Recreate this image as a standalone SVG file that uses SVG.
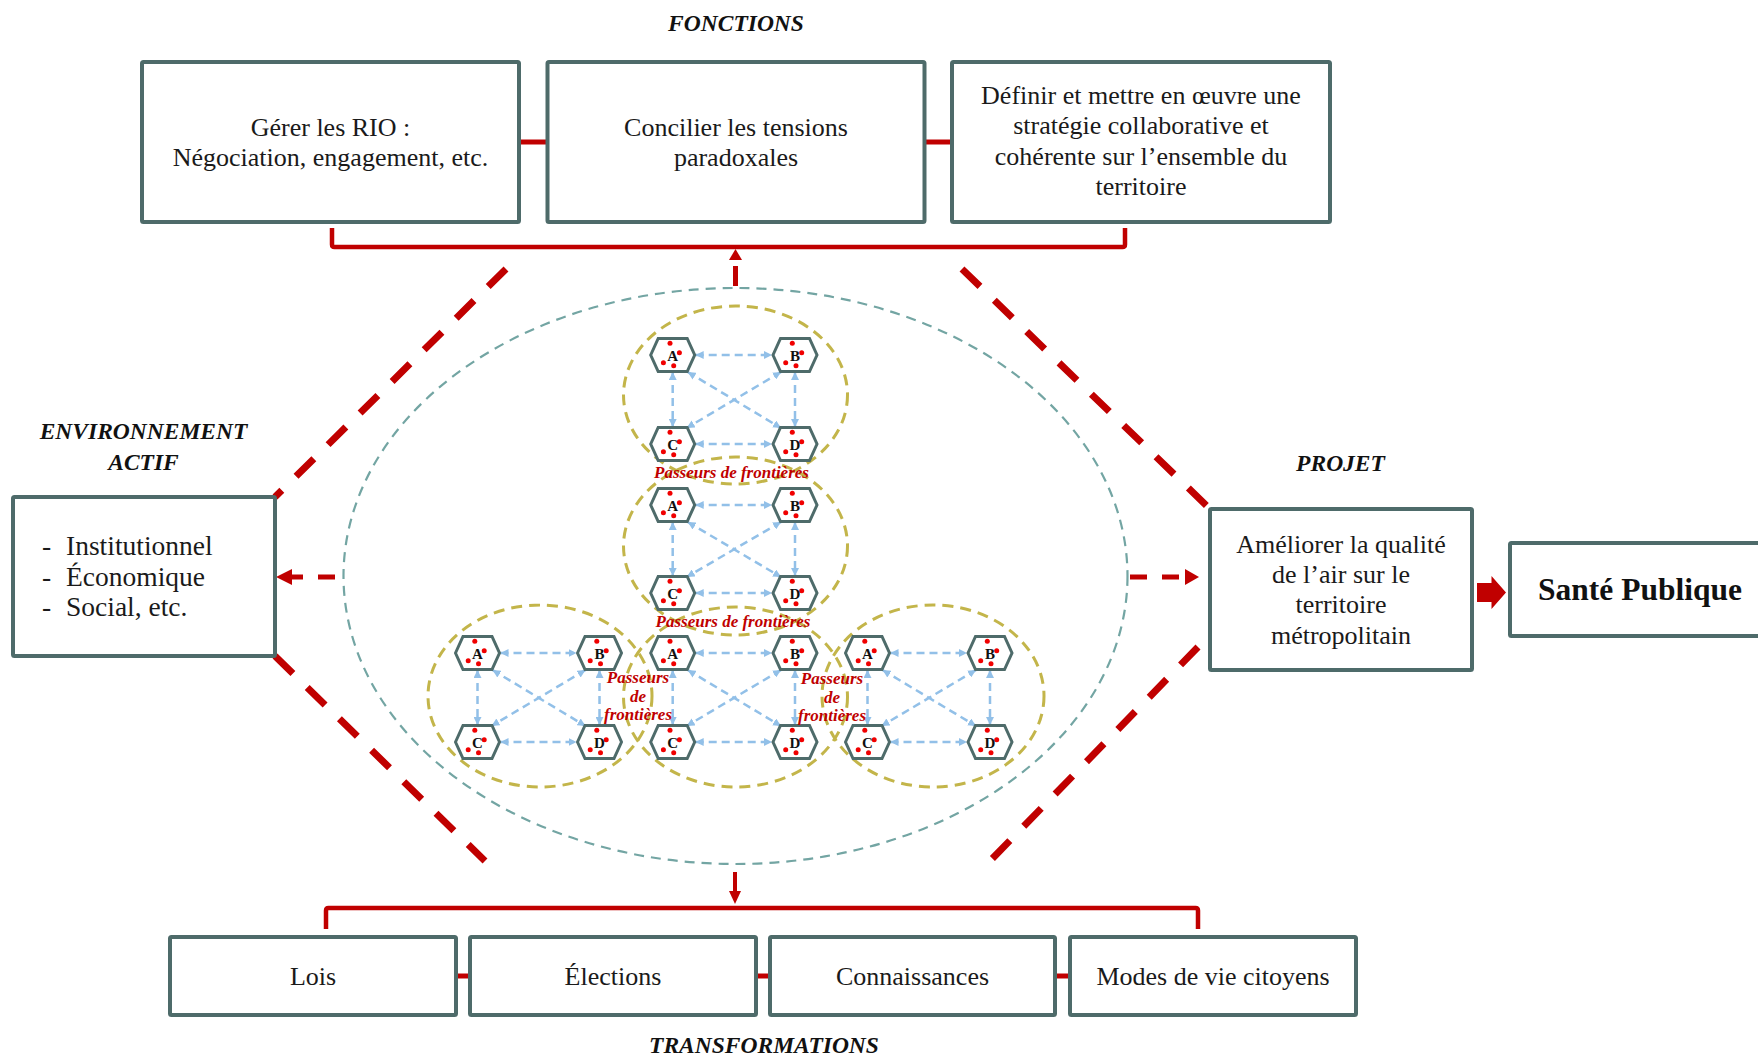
<svg xmlns="http://www.w3.org/2000/svg" xmlns:xlink="http://www.w3.org/1999/xlink" width="1758" height="1057" viewBox="0 0 1758 1057">
<style>
.box{fill:#fff;stroke:#4e6b6a;stroke-width:4}
.t{font-family:'Liberation Serif',serif;font-size:26px;fill:#1a1a1a;text-anchor:middle}
.tl{font-family:'Liberation Serif',serif;font-size:27.5px;fill:#1a1a1a}
.h{font-family:'Liberation Serif',serif;font-weight:bold;font-style:italic;font-size:23.5px;fill:#111;text-anchor:middle}
.pf{font-family:'Liberation Serif',serif;font-weight:bold;font-style:italic;font-size:17px;fill:#c00000;text-anchor:middle}
.hl{font-family:'Liberation Serif',serif;font-weight:bold;font-size:15px;fill:#111;text-anchor:middle}
.rl{stroke:#c00000;fill:none}
.big{stroke:#c00000;stroke-width:7;stroke-dasharray:25 20;fill:none}
.teal{fill:none;stroke:#73a5a3;stroke-width:2.2;stroke-dasharray:10 7}
.ol{fill:none;stroke:#c3b54a;stroke-width:3;stroke-dasharray:11 7}
.bl{fill:none;stroke:#92c0e8;stroke-width:2.5;stroke-dasharray:8 5;marker-start:url(#ba);marker-end:url(#ba)}
.hxp{fill:#fff;stroke:#4e6b6a;stroke-width:3}
.dot{fill:#f00000}
</style>
<defs>
<marker id="ba" viewBox="0 0 10 10" refX="10" refY="5" markerWidth="8" markerHeight="8" markerUnits="userSpaceOnUse" orient="auto-start-reverse"><path d="M0,0 L10,5 L0,10 z" fill="#92c0e8"/></marker>
<g id="hx">
<polygon class="hxp" points="-22,0 -14.5,-16.5 14.5,-16.5 22,0 14.5,16.5 -14.5,16.5"/>
<circle class="dot" cx="-2.7" cy="-11.7" r="2.5"/>
<circle class="dot" cx="6.7" cy="-2.3" r="2.5"/>
<circle class="dot" cx="-9.3" cy="7.7" r="2.5"/>
<circle class="dot" cx="1" cy="10.7" r="2.5"/>
</g>
</defs>
<rect width="1758" height="1057" fill="#fff"/>

<!-- section titles -->
<text class="h" x="736" y="31">FONCTIONS</text>
<text class="h" x="143.5" y="439">ENVIRONNEMENT</text>
<text class="h" x="143.5" y="470">ACTIF</text>
<text class="h" x="1340.5" y="471">PROJET</text>
<text class="h" x="764" y="1053">TRANSFORMATIONS</text>

<!-- connectors -->
<g id="connectors">
<line class="big" x1="506" y1="269" x2="275" y2="497"/>
<line class="big" x1="275" y1="656" x2="485" y2="861"/>
<line class="big" x1="962" y1="269" x2="1209" y2="508"/>
<line class="big" x1="1198" y1="647" x2="991" y2="860"/>
<line class="rl" stroke-width="5" x1="519" y1="142" x2="548" y2="142"/>
<line class="rl" stroke-width="5" x1="924" y1="142" x2="952" y2="142"/>
<path class="rl" stroke-width="4.5" d="M332,228 V244.5 Q332,247 334.5,247 H1122.5 Q1125,247 1125,244.5 V228"/>
<line class="rl" stroke-width="5" x1="735.5" y1="286" x2="735.5" y2="266"/>
<polygon fill="#c00000" points="735.5,249 729,260 742,260"/>
<line class="rl" stroke-width="5" stroke-dasharray="17 15" x1="335" y1="577" x2="292" y2="577"/>
<polygon fill="#c00000" points="276,577 292,569 292,585"/>
<line class="rl" stroke-width="5" stroke-dasharray="17 15" x1="1130" y1="577" x2="1186" y2="577"/>
<polygon fill="#c00000" points="1199,577 1185,569 1185,585"/>
<polygon fill="#c00000" points="1477,583 1491.5,583 1491.5,576 1506,592.5 1491.5,609 1491.5,602 1477,602"/>
<line class="rl" stroke-width="4" x1="735" y1="872" x2="735" y2="892"/>
<polygon fill="#c00000" points="729,891 741,891 735,904"/>
<path class="rl" stroke-width="4.5" d="M326,929 V910.5 Q326,908 328.5,908 H1195.5 Q1198,908 1198,910.5 V929"/>
<line class="rl" stroke-width="5" x1="456" y1="976" x2="470" y2="976"/>
<line class="rl" stroke-width="5" x1="756" y1="976" x2="771" y2="976"/>
<line class="rl" stroke-width="5" x1="1055" y1="976" x2="1071" y2="976"/>
</g>

<!-- top function boxes -->
<g id="f1"><rect class="box" x="142" y="62" width="377" height="160" rx="1.5"/>
<text class="t" x="330.5" y="136">Gérer les RIO :</text>
<text class="t" x="330.5" y="166">Négociation, engagement, etc.</text></g>
<g id="f2"><rect class="box" x="547.5" y="62" width="377" height="160" rx="1.5"/>
<text class="t" x="736" y="136">Concilier les tensions</text>
<text class="t" x="736" y="166">paradoxales</text></g>
<g id="f3"><rect class="box" x="952" y="62" width="378" height="160" rx="1.5"/>
<text class="t" x="1141" y="104">Définir et mettre en œuvre une</text>
<text class="t" x="1141" y="134">stratégie collaborative et</text>
<text class="t" x="1141" y="165">cohérente sur l’ensemble du</text>
<text class="t" x="1141" y="195">territoire</text></g>

<!-- environment -->
<g id="env"><rect class="box" x="13" y="497" width="262" height="159" rx="1.5"/>
<text class="tl" x="42" y="555">-</text><text class="tl" x="66" y="555">Institutionnel</text>
<text class="tl" x="42" y="586">-</text><text class="tl" x="66" y="586">Économique</text>
<text class="tl" x="42" y="616">-</text><text class="tl" x="66" y="616">Social, etc.</text></g>

<!-- projet -->
<g id="projet"><rect class="box" x="1210" y="509" width="262" height="161" rx="1.5"/>
<text class="t" x="1341" y="553">Améliorer la qualité</text>
<text class="t" x="1341" y="583">de l’air sur le</text>
<text class="t" x="1341" y="613">territoire</text>
<text class="t" x="1341" y="644">métropolitain</text></g>

<g id="sante"><rect class="box" x="1510" y="543" width="260" height="93" rx="1.5"/>
<text x="1538" y="600" font-family="'Liberation Serif',serif" font-weight="bold" font-size="31.5" fill="#111">Santé Publique</text></g>

<!-- bottom transformations -->
<g id="lois"><rect class="box" x="170" y="937" width="286" height="78" rx="1.5"/><text class="t" x="313" y="985">Lois</text></g>
<g id="elections"><rect class="box" x="470" y="937" width="286" height="78" rx="1.5"/><text class="t" x="613" y="985">Élections</text></g>
<g id="connaissances"><rect class="box" x="770" y="937" width="285" height="78" rx="1.5"/><text class="t" x="912.5" y="985">Connaissances</text></g>
<g id="modes"><rect class="box" x="1070" y="937" width="286" height="78" rx="1.5"/><text class="t" x="1213" y="985">Modes de vie citoyens</text></g>

<!-- central network -->
<g id="network">
<ellipse class="teal" cx="735.5" cy="576" rx="392" ry="288"/>
<ellipse class="ol" cx="735.5" cy="395" rx="112" ry="89"/>
<ellipse class="ol" cx="735.5" cy="546" rx="112" ry="89"/>
<ellipse class="ol" cx="735.5" cy="697" rx="112" ry="90"/>
<ellipse class="ol" cx="540" cy="696" rx="112" ry="91"/>
<ellipse class="ol" cx="933" cy="696" rx="111" ry="91"/>
</g>

<g id="cluster-links">
<path class="bl" d="M695.7,355 H772"/><path class="bl" d="M695.7,444 H772"/>
<path class="bl" d="M672.7,372 V427"/><path class="bl" d="M795,372 V427"/>
<path class="bl" d="M687.7,372 L781,428"/><path class="bl" d="M781,372 L686.7,428"/>

<path class="bl" d="M695.7,505 H772"/><path class="bl" d="M695.7,593 H772"/>
<path class="bl" d="M672.7,522 V576"/><path class="bl" d="M795,522 V576"/>
<path class="bl" d="M687.7,522 L781,577"/><path class="bl" d="M781,522 L686.7,577"/>

<path class="bl" d="M695.7,653 H772"/><path class="bl" d="M695.7,742 H772"/>
<path class="bl" d="M672.7,670 V725"/><path class="bl" d="M795,670 V725"/>
<path class="bl" d="M687.7,670 L781,726"/><path class="bl" d="M781,670 L686.7,726"/>

<path class="bl" d="M500.5,653 H576.5"/><path class="bl" d="M500.5,742 H576.5"/>
<path class="bl" d="M477.5,670 V725"/><path class="bl" d="M599.5,670 V725"/>
<path class="bl" d="M492.5,670 L585.5,726"/><path class="bl" d="M585.5,670 L491.5,726"/>

<path class="bl" d="M890.5,653 H967"/><path class="bl" d="M890.5,742 H967"/>
<path class="bl" d="M867.5,670 V725"/><path class="bl" d="M990,670 V725"/>
<path class="bl" d="M882.5,670 L976,726"/><path class="bl" d="M976,670 L881.5,726"/>
</g>

<g id="T-A"><use xlink:href="#hx" x="672.7" y="355"/><text class="hl" x="672.7" y="361">A</text></g>
<g id="T-B"><use xlink:href="#hx" x="795" y="355"/><text class="hl" x="795" y="361">B</text></g>
<g id="T-C"><use xlink:href="#hx" x="672.7" y="444"/><text class="hl" x="672.7" y="450">C</text></g>
<g id="T-D"><use xlink:href="#hx" x="795" y="444"/><text class="hl" x="795" y="450">D</text></g>

<g id="M-A"><use xlink:href="#hx" x="672.7" y="505"/><text class="hl" x="672.7" y="511">A</text></g>
<g id="M-B"><use xlink:href="#hx" x="795" y="505"/><text class="hl" x="795" y="511">B</text></g>
<g id="M-C"><use xlink:href="#hx" x="672.7" y="593"/><text class="hl" x="672.7" y="599">C</text></g>
<g id="M-D"><use xlink:href="#hx" x="795" y="593"/><text class="hl" x="795" y="599">D</text></g>

<g id="BC-A"><use xlink:href="#hx" x="672.7" y="653"/><text class="hl" x="672.7" y="659">A</text></g>
<g id="BC-B"><use xlink:href="#hx" x="795" y="653"/><text class="hl" x="795" y="659">B</text></g>
<g id="BC-C"><use xlink:href="#hx" x="672.7" y="742"/><text class="hl" x="672.7" y="748">C</text></g>
<g id="BC-D"><use xlink:href="#hx" x="795" y="742"/><text class="hl" x="795" y="748">D</text></g>

<g id="BL-A"><use xlink:href="#hx" x="477.5" y="653"/><text class="hl" x="477.5" y="659">A</text></g>
<g id="BL-B"><use xlink:href="#hx" x="599.5" y="653"/><text class="hl" x="599.5" y="659">B</text></g>
<g id="BL-C"><use xlink:href="#hx" x="477.5" y="742"/><text class="hl" x="477.5" y="748">C</text></g>
<g id="BL-D"><use xlink:href="#hx" x="599.5" y="742"/><text class="hl" x="599.5" y="748">D</text></g>

<g id="BR-A"><use xlink:href="#hx" x="867.5" y="653"/><text class="hl" x="867.5" y="659">A</text></g>
<g id="BR-B"><use xlink:href="#hx" x="990" y="653"/><text class="hl" x="990" y="659">B</text></g>
<g id="BR-C"><use xlink:href="#hx" x="867.5" y="742"/><text class="hl" x="867.5" y="748">C</text></g>
<g id="BR-D"><use xlink:href="#hx" x="990" y="742"/><text class="hl" x="990" y="748">D</text></g>

<g id="passeurs">
<text class="pf" x="731.5" y="478">Passeurs de frontières</text>
<text class="pf" x="733" y="627">Passeurs de frontières</text>
<text class="pf" x="638" y="683">Passeurs</text>
<text class="pf" x="638" y="702">de</text>
<text class="pf" x="638" y="720">frontières</text>
<text class="pf" x="832" y="684">Passeurs</text>
<text class="pf" x="832" y="703">de</text>
<text class="pf" x="832" y="721">frontières</text>
</g>
</svg>
